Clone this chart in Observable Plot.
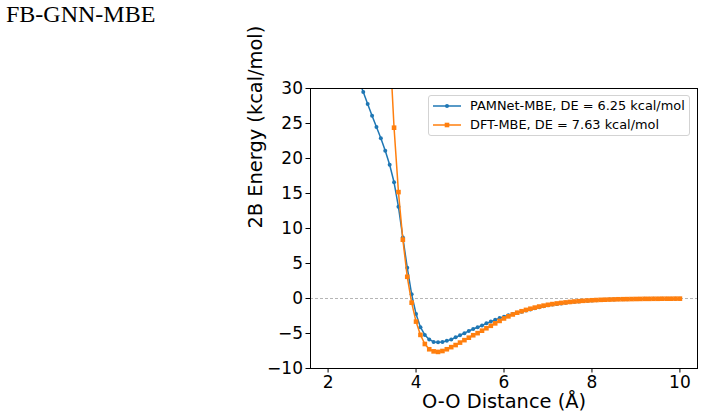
<!DOCTYPE html>
<html><head><meta charset="utf-8">
<script src="https://cdn.jsdelivr.net/npm/d3@7"></script>
<script src="https://cdn.jsdelivr.net/npm/@observablehq/plot@0.6"></script>
<style>
body{margin:0;background:#fff;}
#wrap{position:relative;width:704px;height:418px;overflow:hidden;font-family:"DejaVu Sans",sans-serif;background:#fff;}
#title{position:absolute;left:6px;top:0;font-family:"Liberation Serif","Times New Roman",serif;font-size:24px;line-height:28px;color:#000;white-space:nowrap;}
#chart{position:absolute;left:0;top:40px;}
#legend{position:absolute;left:428px;top:95px;width:262px;height:41px;box-sizing:border-box;border:1px solid #d3d3d3;border-radius:3px;background:rgba(255,255,255,0.85);}
.row{position:absolute;left:0;height:16px;}
.row svg{position:absolute;left:3px;top:0;}
.row span{position:absolute;left:41px;top:0;line-height:16px;font-size:12.9px;color:#000;white-space:nowrap;font-family:"DejaVu Sans",sans-serif;}
</style></head><body>
<div id="wrap"><div id="title">FB-GNN-MBE</div><div id="chart"></div><div id="legend"></div></div>
<script>
const titleText = "FB-GNN-MBE";
const xLabel = "O-O Distance (Å)";
const yLabel = "2B Energy (kcal/mol)";
const xTicks = [2, 4, 6, 8, 10];
const yTicks = [-10, -5, 0, 5, 10, 15, 20, 25, 30];
const seriesNames = ["PAMNet-MBE, DE = 6.25 kcal/mol", "DFT-MBE, DE = 7.63 kcal/mol"];
const seriesColors = ["#1f77b4", "#ff7f0e"];

const distance = [2.0,2.1,2.2,2.3,2.4,2.5,2.6,2.7,2.8,2.9,3.0,3.1,3.2,3.3,3.4,3.5,3.6,3.7,3.8,3.9,
4.0,4.1,4.2,4.3,4.4,4.5,4.6,4.7,4.8,4.9,5.0,5.1,5.2,5.3,5.4,5.5,5.6,5.7,5.8,5.9,
6.0,6.1,6.2,6.3,6.4,6.5,6.6,6.7,6.8,6.9,7.0,7.1,7.2,7.3,7.4,7.5,7.6,7.7,7.8,7.9,
8.0,8.1,8.2,8.3,8.4,8.5,8.6,8.7,8.8,8.9,9.0,9.1,9.2,9.3,9.4,9.5,9.6,9.7,9.8,9.9,10.0];

// null = above the visible range (not readable from the picture)
const pamnetEnergy = [null,null,null,null,null,null,null,31.2,29.5,27.8,26.1,24.5,22.9,21.1,19.1,16.6,13.1,8.7,4.4,0.6,
-2.2,-4.1,-5.2,-5.85,-6.2,-6.25,-6.2,-6.05,-5.85,-5.55,-5.25,-4.95,-4.65,-4.35,-4.1,-3.85,-3.55,-3.3,-3.05,-2.8,
-2.6,-2.4,-2.2,-2.05,-1.9,-1.72,-1.56,-1.4,-1.25,-1.1,-0.97,-0.87,-0.78,-0.7,-0.62,-0.55,-0.48,-0.42,-0.37,-0.32,
-0.28,-0.24,-0.21,-0.18,-0.16,-0.14,-0.12,-0.1,-0.09,-0.08,-0.07,-0.06,-0.05,-0.05,-0.04,-0.04,-0.03,-0.03,-0.02,-0.02,-0.02];

const dftEnergy = [null,null,null,null,null,null,null,null,null,null,null,null,null,null,36.5,24.4,15.2,8.4,3.1,-0.6,
-3.3,-5.2,-6.5,-7.25,-7.55,-7.63,-7.5,-7.25,-6.95,-6.65,-6.3,-5.95,-5.6,-5.25,-4.95,-4.6,-4.25,-3.9,-3.55,-3.2,
-2.85,-2.55,-2.28,-2.03,-1.82,-1.63,-1.46,-1.3,-1.15,-1.02,-0.9,-0.8,-0.71,-0.63,-0.56,-0.49,-0.43,-0.38,-0.33,-0.29,
-0.25,-0.22,-0.19,-0.17,-0.15,-0.13,-0.11,-0.1,-0.09,-0.08,-0.07,-0.06,-0.05,-0.05,-0.04,-0.04,-0.03,-0.03,-0.03,-0.02,-0.02];

const pam = distance.map((d, i) => ({d, e: pamnetEnergy[i]})).filter(o => o.e !== null);
const dft = distance.map((d, i) => ({d, e: dftEnergy[i]})).filter(o => o.e !== null);

document.getElementById("title").textContent = titleText;

const chart = Plot.plot({
  width: 704, height: 378,
  marginLeft: 310, marginRight: 7, marginTop: 48, marginBottom: 50,
  style: {fontFamily: "DejaVu Sans, sans-serif", fontSize: "17px", color: "#000", background: "white", overflow: "visible"},
  x: {domain: [1.6, 10.4]},
  y: {domain: [-10, 30]},
  marks: [
    Plot.ruleY([0], {stroke: "#b5b5b5", strokeDasharray: "3,2", strokeWidth: 1}),
    Plot.line(pam, {x: "d", y: "e", stroke: seriesColors[0], strokeWidth: 1.5, clip: true}),
    Plot.dot(pam, {x: "d", y: "e", r: 2, fill: seriesColors[0], clip: true}),
    Plot.line(dft, {x: "d", y: "e", stroke: seriesColors[1], strokeWidth: 1.5, clip: true}),
    Plot.dot(dft, {x: "d", y: "e", r: 2.6, symbol: "square", fill: seriesColors[1], clip: true}),
    Plot.frame({stroke: "#000", strokeWidth: 1}),
    Plot.axisX({ticks: xTicks, tickSize: 4.5, tickPadding: 3, fontSize: 17, label: null}),
    Plot.axisY({ticks: yTicks, tickSize: 4.5, tickPadding: 3, fontSize: 17, label: null}),
    Plot.text([xLabel], {frameAnchor: "bottom", dy: 39, fontSize: 19.4, text: d => d}),
    Plot.text([yLabel], {frameAnchor: "left", dx: -55, rotate: -90, fontSize: 19.4, text: d => d})
  ]
});
document.getElementById("chart").appendChild(chart);

const legend = document.getElementById("legend");
const rowTops = [2, 21];
seriesNames.forEach((name, i) => {
  const row = document.createElement("div");
  row.className = "row";
  row.style.top = rowTops[i] + "px";
  const marker = i === 0
    ? `<circle cx="15" cy="8" r="2" fill="${seriesColors[i]}"/>`
    : `<rect x="12.7" y="5.7" width="4.6" height="4.6" fill="${seriesColors[i]}"/>`;
  row.innerHTML = `<svg width="30" height="16"><line x1="1" x2="29" y1="8" y2="8" stroke="${seriesColors[i]}" stroke-width="1.5"/>${marker}</svg><span>${name}</span>`;
  legend.appendChild(row);
});
</script>
</body></html>
